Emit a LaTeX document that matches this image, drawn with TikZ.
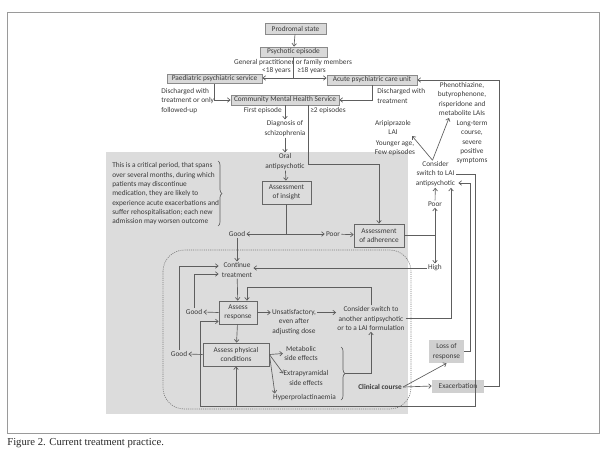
\documentclass[tikz,border=0pt]{standalone}
\usepackage{fontspec}
\setmainfont{Carlito}
\newfontfamily\capfont{Liberation Serif}
\usetikzlibrary{arrows.meta,calc,decorations.pathreplacing}
\definecolor{regiong}{HTML}{DCDCDC}
\definecolor{topfill}{HTML}{D9D9D9}
\definecolor{topdraw}{HTML}{8A8A8A}
\definecolor{linec}{HTML}{5E5E5E}
\definecolor{txtc}{HTML}{3A3A3A}
\definecolor{boxd}{HTML}{666666}
\definecolor{outfill}{HTML}{D0D0D0}
\definecolor{framec}{HTML}{9A9A9A}
\begin{document}
\begin{tikzpicture}[x=0.75pt,y=-0.75pt,
  every node/.style={font=\fontsize{5.5}{7}\selectfont, text=txtc, inner sep=0.8pt, align=center},
  ln/.style={draw=linec, line width=0.5pt},
  arr/.style={ln, -{Straight Barb[length=2pt,width=3.4pt]}},
  sz/.style 2 args={minimum width=#1*0.75pt, minimum height=#2*0.75pt},
  topbox/.style={draw=topdraw, fill=topfill, line width=0.7pt, inner sep=0pt},
  inbox/.style={draw=boxd, line width=0.6pt, inner sep=0pt},
  outbox/.style={fill=outfill, inner sep=0pt}]
\useasboundingbox (0,0) rectangle (605,462);
\fill[regiong] (106,152) rectangle (408,414);
\draw[framec, line width=0.6pt] (7,12) rectangle (599,433);
\draw[linec!80, dash pattern=on 0.8pt off 0.8pt, line width=0.5pt, rounded corners=16pt] (163,250) rectangle (411,409);

% nodes
\node[topbox, sz={61}{11}] (prod) at (295.5,28.5) {Prodromal state};
\node[topbox, sz={67}{10}] (psy) at (293.5,52) {Psychotic episode};
\node (gp) at (293,63) {General practitioner or family members};
\node[anchor=east] (lt) at (292,71) {<18 years};
\node[anchor=west] (ge) at (296,71) {≥18 years};
\node[topbox, sz={95}{9}] (paed) at (214.5,79) {Paediatric psychiatric service};
\node[topbox, sz={90}{10}] (acute) at (372,80) {Acute psychiatric care unit};
\node[topbox, sz={108}{10}] (cmhs) at (285,100) {Community Mental Health Service};
\node[anchor=west, align=left] (dis1) at (160,101) {Discharged with\\treatment or only\\followed-up};
\node[anchor=west, align=left] (dis2) at (376,96) {Discharged with\\treatment};
\node[anchor=east] (first) at (283,111) {First episode};
\node[anchor=west] (two) at (309,111) {≥2 episodes};
\node (diag) at (285,128.5) {Diagnosis of\\schizophrenia};
\node (oral) at (285,161.5) {Oral\\antipsychotic};
\node[inbox, sz={49}{23}] (insight) at (286.5,192.5) {Assessment\\of insight};
\node[anchor=west, align=left] (crit) at (111,194) {This is a critical period, that spans\\over several months, during which\\patients may discontinue\\medication, they are likely to\\experience acute exacerbations and\\suffer rehospitalisation; each new\\admission may worsen outcome};
\node (good1) at (237,234) {Good};
\node (poor1) at (333,234) {Poor};
\node[inbox, sz={50}{23}] (adher) at (379,235.5) {Assessment\\of adherence};
\node (poor2) at (435,204) {Poor};
\node (high) at (435,268) {High};
\node (lai) at (435.5,174) {Consider\\switch to LAI\\antipsychotic};
\node (arip) at (393,127.5) {Aripiprazole\\LAI};
\node (young) at (395,148) {Younger age,\\Few episodes};
\node (pheno) at (462,99) {Phenothiazine,\\butyrophenone,\\risperidone and\\metabolite LAIs};
\node (long) at (472,142.5) {Long-term\\course,\\severe\\positive\\symptoms};
\node (cont) at (237,270) {Continue\\treatment};
\node[inbox, sz={38}{23}] (resp) at (238,312.5) {Assess\\response};
\node (good2) at (194,312) {Good};
\node (unsat) at (294,322) {Unsatisfactory,\\even after\\adjusting dose};
\node (another) at (371,318.5) {Consider switch to\\another antipsychotic\\or to a LAI formulation};
\node[inbox, sz={66}{23}] (phys) at (236,354.5) {Assess physical\\conditions};
\node (good3) at (179,354) {Good};
\node (metab) at (301,353.5) {Metabolic\\side effects};
\node (extra) at (306,378) {Extrapyramidal\\side effects};
\node (hyper) at (304.5,398) {Hyperprolactinaemia};
\node[font=\fontsize{5.5}{7}\selectfont\bfseries] (clin) at (380,387) {Clinical course};
\node[outbox, sz={35}{23}] (loss) at (446.5,351.5) {Loss of\\response};
\node[outbox, sz={52}{13}] (exac) at (458,386) {Exacerbation};
\node[anchor=west, font=\capfont\fontsize{8}{9}\selectfont, text=black!85] (cap) at (6,443) {Figure 2. Current treatment practice.};

% connectors
\draw[arr] (prod) -- (psy);
\coordinate (j1) at (293.5,78);
\draw[ln] (psy.south) -- (j1);
\draw[arr] (j1) -- (j1 -| paed.east);
\draw[arr] (j1) -- (j1 -| acute.west);
\draw[arr] (paed.south) |- (cmhs.west);
\draw[arr] (acute.south) |- (cmhs.east);
\coordinate (exR) at (499,386);
\draw[arr] (exac.east) -- (exR) |- (acute.east);
\draw[arr] (cmhs.south) -- (diag.north);
\draw[arr] (diag) -- (oral);
\draw[arr] (oral) -- (insight);
\coordinate (c2) at (308,105);
\coordinate (c3) at (308,164);
\draw[arr] (c2) -- (c3) -| (adher.north);
\coordinate (j2) at (286.5,234);
\draw[ln] (insight.south) -- (j2);
\draw[arr] (j2) -- (good1.east);
\draw[arr] (j2) -- (poor1.west);
\draw[arr] (poor1) -- (adher);
\coordinate (j3) at (435,235.5);
\draw[ln] (adher.east) -- (j3);
\draw[arr] (j3) -- (poor2.south);
\draw[arr] (j3) -- (high.north);
\draw[arr] (poor2) -- (lai);
\coordinate (laitop) at ($(lai.north)+(-3,0)$);
\draw[arr] (laitop) -- (arip.south east);
\draw[arr] (laitop) -- ($(pheno.south)+(-13,1)$);
\draw[arr] (high.west) -- (high.west -| cont.east);
\draw[arr] (good1) -- (cont);
\draw[arr] (cont) -- (resp);
\draw[arr] (resp.west) -- (good2.east);
\draw[arr] (good2.north) |- ($(cont.west)+(-2,4)$);
\draw[arr] (resp.east) -- (unsat.west |- resp.east);
\draw[arr] (unsat.east |- resp.east) -- (another.west |- resp.east);
\draw[arr] (another.north) |- ($(resp.north)+(9,-13)$) -- ($(resp.north)+(9,0)$);
\draw[arr] (another.east) -| ($(lai.south)+(15.5,0)$);
\draw[arr] (loss.east) -- ++(6,0) |- ($(lai.east)+(2,9)$);
\coordinate (lR) at (475,406);
\coordinate (lL) at (200,406);
\draw[arr] (lai.east) -| (lR) -- (lL) |- ($(resp.south west)+(0,-3)$);
\draw[arr] (phys.south |- lL) -- (phys.south);
\draw[arr] (resp) -- (phys);
\draw[arr] (phys.west) -- (good3.east);
\draw[arr] (good3.north) |- ($(cont.west)+(-2,-4)$);
\draw[arr] (phys.east) -- (metab.west);
\draw[arr] (phys.east) -- ($(extra.north west)+(1,4)$);
\draw[arr] (phys.east) -- ($(hyper.north west)+(3,0)$);
\draw[ln, decorate, decoration={brace, amplitude=3pt}] (341,347) -- (341,400);
\coordinate (btip) at (345,373.5);
\draw[arr] (btip) -| (another.south);
\draw[ln, decorate, decoration={brace, amplitude=3pt}] (218,161) -- (218,226);
\draw[arr] (clin.east) -- (exac.west);
\draw[arr] (clin.east) -- (loss.south);
\end{tikzpicture}
\end{document}
